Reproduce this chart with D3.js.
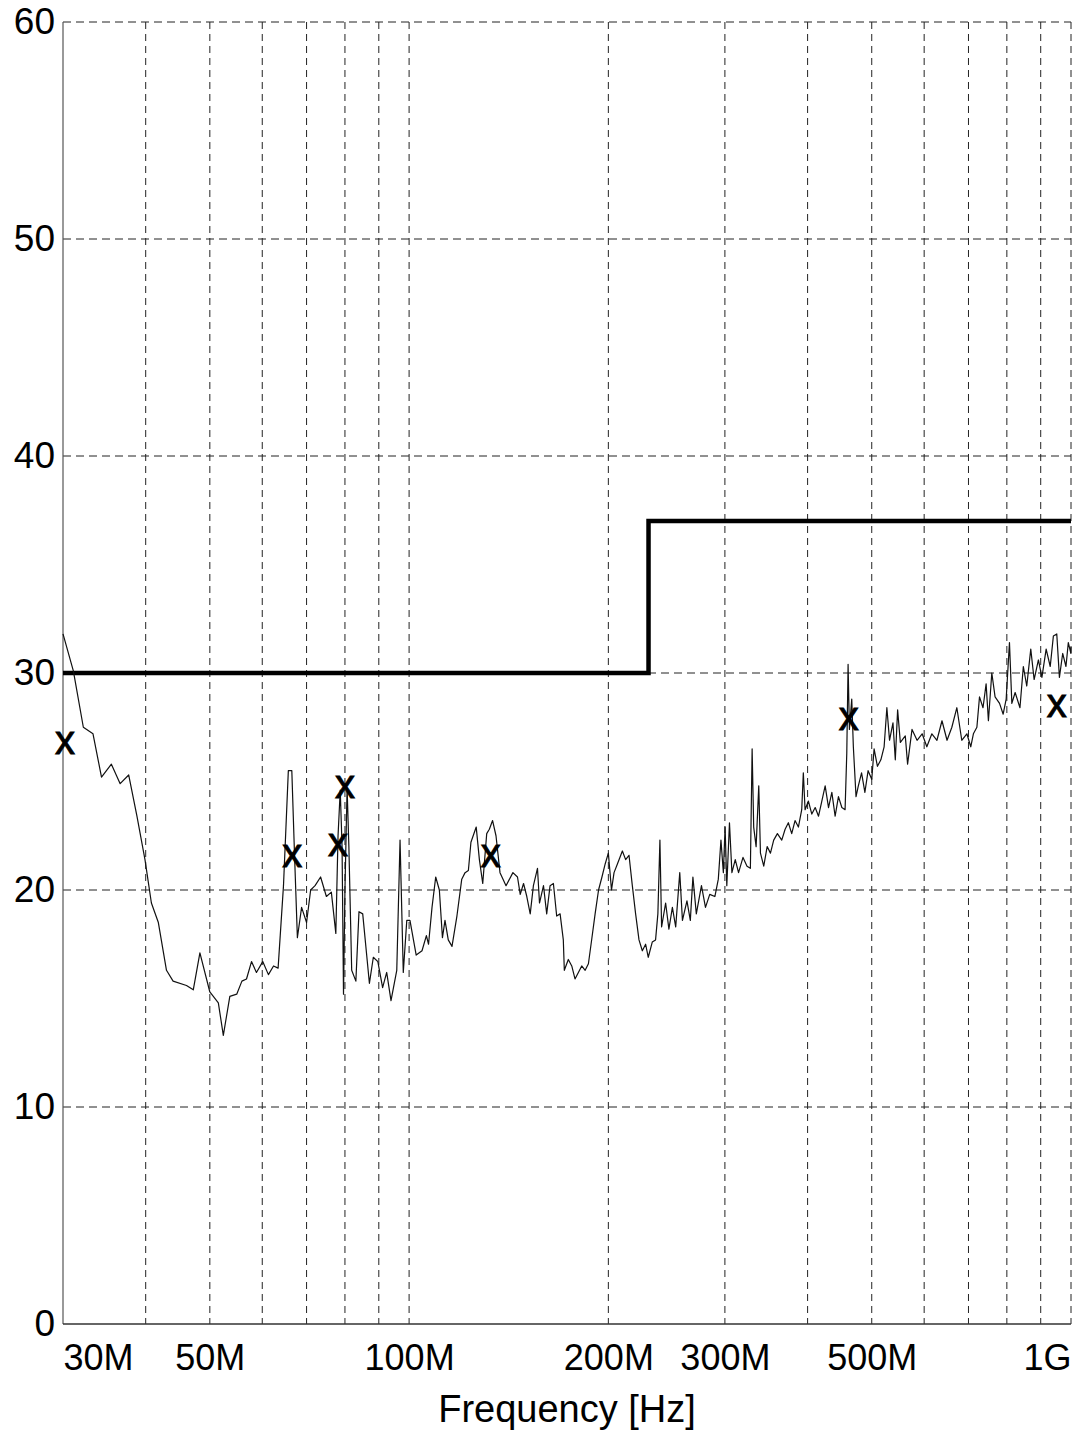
<!DOCTYPE html>
<html>
<head>
<meta charset="utf-8">
<script src="https://cdn.jsdelivr.net/npm/d3@7"></script>
<style>
  html, body { margin: 0; padding: 0; background: #fff; }
  svg { display: block; }
  text { font-family: "Liberation Sans", Arial, Helvetica, sans-serif; fill: #000; }
</style>
</head>
<body>
<svg id="chart" width="1077" height="1437"></svg>
<script>
// Axis ranges and tick labels
const freqDomain = [30, 1000];            // MHz
const levelDomain = [0, 60];              // dB
const levelTicks = [0, 10, 20, 30, 40, 50, 60];
const freqLabelValues = [30, 50, 100, 200, 300, 500, 1000];
const freqLabelText = ["30M", "50M", "100M", "200M", "300M", "500M", "1G"];
const freqGridValues = [40, 50, 60, 70, 80, 90, 100, 200, 300, 400, 500, 600, 700, 800, 900, 1000];
const xTitle = "Frequency [Hz]";

// Limit line (MHz, dB)
const limitFreq = [30, 230, 230, 1000];
const limitLevel = [30, 30, 37, 37];

// Measured spectrum (MHz, dB)
const traceFreq = [
  30.0, 31.1, 32.2, 33.3, 34.3, 35.5, 36.6, 37.7, 38.8, 39.9,
  40.8, 41.8, 43.0, 44.0, 46.1, 47.2, 48.3, 50.0, 51.5, 52.4,
  53.6, 54.9, 55.9, 56.8, 57.8, 58.8, 60.1, 61.3, 62.4, 63.4,
  64.6, 65.7, 66.5, 67.1, 67.8, 68.8, 70.0, 71.0, 72.1, 73.5,
  75.0, 76.3, 77.5, 78.1, 78.7, 79.2, 79.6, 80.0, 80.6, 81.1,
  81.9, 83.1, 84.0, 85.1, 87.1, 88.3, 89.7, 91.2, 92.5, 93.9,
  95.8, 96.9, 98.0, 99.2, 100.3, 102.5, 104.6, 106.2, 107.0, 108.3,
  109.7, 111.1, 112.3, 113.3, 114.6, 116.1, 118.1, 120.1, 121.5, 122.9,
  124.0, 126.3, 127.7, 129.2, 131.0, 132.2, 133.7, 135.3, 137.2, 140.1,
  143.5, 145.8, 147.2, 148.9, 150.6, 152.4, 154.1, 156.3, 157.4, 159.6,
  161.4, 163.3, 165.2, 167.1, 169.1, 171.0, 171.6, 174.0, 176.1, 178.1,
  180.2, 182.3, 184.5, 186.6, 188.9, 191.0, 193.3, 195.6, 197.8, 200.0,
  202.2, 204.0, 206.4, 210.0, 212.4, 214.9, 217.4, 219.9, 222.5, 225.1,
  227.7, 229.8, 233.0, 235.7, 237.6, 239.3, 240.7, 244.1, 246.9, 249.9,
  252.8, 256.4, 258.8, 262.9, 266.0, 268.4, 271.6, 276.5, 280.4, 284.6,
  289.7, 293.2, 295.9, 298.4, 300.2, 302.0, 304.8, 307.4, 311.0, 314.6,
  319.5, 324.0, 327.8, 329.8, 331.6, 334.4, 337.5, 339.5, 343.4, 347.5,
  351.5, 355.5, 360.1, 365.6, 369.9, 374.1, 378.5, 382.9, 387.4, 391.9,
  394.1, 396.5, 401.1, 405.9, 410.7, 415.5, 420.3, 425.2, 430.2, 435.2,
  440.2, 445.3, 450.6, 455.7, 458.4, 460.5, 462.6, 466.4, 469.0, 473.4,
  477.2, 482.6, 488.2, 493.7, 500.0, 504.1, 510.0, 516.1, 522.0, 527.0,
  531.9, 538.3, 542.7, 547.1, 552.3, 561.9, 566.4, 575.2, 585.4, 595.8,
  605.6, 616.3, 627.3, 638.4, 649.7, 660.7, 672.3, 683.9, 696.1, 705.6,
  712.1, 720.8, 727.4, 736.3, 744.3, 750.3, 759.2, 767.9, 779.9, 789.8,
  798.1, 807.3, 814.0, 823.4, 837.3, 847.2, 857.3, 869.4, 879.6, 892.8,
  903.7, 917.2, 930.3, 940.5, 951.7, 960.5, 971.5, 982.6, 990.7, 999.5,
  1000.0
];
const traceLevel = [
  31.8, 30.1, 27.5, 27.2, 25.2, 25.8, 24.9, 25.3, 23.4, 21.4,
  19.4, 18.5, 16.3, 15.8, 15.6, 15.4, 17.1, 15.3, 14.8, 13.3,
  15.1, 15.2, 15.8, 15.9, 16.7, 16.2, 16.7, 16.1, 16.5, 16.4,
  20.2, 25.5, 25.5, 21.8, 17.8, 19.2, 18.5, 20.0, 20.2, 20.6,
  19.7, 19.9, 18.0, 22.5, 24.6, 22.0, 15.2, 20.0, 24.7, 22.0,
  16.3, 15.8, 19.0, 18.9, 15.7, 16.9, 16.7, 15.5, 16.2, 14.9,
  16.3, 22.3, 16.2, 18.6, 18.6, 17.0, 17.2, 17.9, 17.5, 19.2,
  20.6, 20.0, 17.8, 18.6, 17.7, 17.4, 18.8, 20.5, 20.8, 20.9,
  22.2, 22.9, 21.4, 20.3, 22.6, 22.8, 23.2, 22.5, 20.8, 20.2,
  20.8, 20.6, 19.8, 20.3, 19.7, 18.9, 20.2, 21.0, 19.4, 20.2,
  18.9, 20.2, 20.3, 18.8, 18.9, 17.7, 16.3, 16.8, 16.5, 15.9,
  16.2, 16.5, 16.3, 16.6, 17.8, 18.9, 20.0, 20.6, 21.2, 21.7,
  20.0, 20.8, 21.2, 21.8, 21.4, 21.6, 20.2, 18.9, 17.7, 17.2,
  17.5, 16.9, 17.6, 17.7, 18.9, 22.3, 18.3, 19.4, 18.2, 19.2,
  18.3, 20.8, 18.6, 19.5, 18.6, 20.6, 18.9, 20.2, 19.2, 19.8,
  19.7, 20.5, 22.3, 20.8, 22.9, 20.2, 23.1, 20.8, 21.4, 20.8,
  21.5, 21.1, 21.0, 26.5, 22.9, 22.0, 24.8, 21.7, 21.1, 22.0,
  21.7, 22.3, 22.6, 22.3, 22.8, 23.1, 22.6, 23.2, 22.9, 23.7,
  25.4, 23.7, 24.1, 23.5, 23.8, 23.4, 24.1, 24.8, 23.8, 24.5,
  23.4, 24.3, 23.8, 23.7, 26.3, 30.4, 27.4, 28.8, 26.6, 24.3,
  24.8, 25.4, 24.5, 25.5, 25.1, 26.5, 25.7, 26.0, 26.6, 28.4,
  26.9, 27.7, 26.0, 28.3, 26.8, 27.1, 25.8, 27.4, 26.9, 27.2,
  26.6, 27.2, 26.9, 27.8, 26.9, 27.5, 28.4, 26.9, 27.2, 26.6,
  27.2, 27.5, 28.9, 28.4, 29.5, 27.8, 30.0, 28.9, 28.6, 28.1,
  28.8, 31.4, 28.6, 29.1, 28.4, 30.3, 29.4, 31.1, 29.7, 30.6,
  29.8, 31.1, 30.3, 31.7, 31.8, 29.8, 30.9, 30.3, 31.4, 30.9,
  31.2
];

// Peak markers (MHz, dB)
const markerFreq = [30.2, 66.6, 78.1, 80.0, 132.8, 461.5, 951.7];
const markerLevel = [26.9, 21.7, 22.2, 24.9, 21.7, 28.0, 28.6];

const svg = d3.select("#chart");
const plotLeft = 63, plotRight = 1071, plotTop = 22, plotBottom = 1324;
const fontStack = "'Liberation Sans', Arial, Helvetica, sans-serif";

const x = d3.scaleLog().domain(freqDomain).range([plotLeft, plotRight]);
const y = d3.scaleLinear().domain(levelDomain).range([plotBottom, plotTop]);

// Dashed grid
const grid = svg.append("g").attr("fill", "none");
grid.selectAll("line.v").data(freqGridValues).join("line")
  .attr("class", "v")
  .attr("x1", d => x(d)).attr("x2", d => x(d))
  .attr("y1", plotTop).attr("y2", plotBottom)
  .attr("stroke", "#222").attr("stroke-width", 1)
  .attr("stroke-dasharray", "7,5");
grid.selectAll("line.h").data(levelTicks.filter(d => d > 0)).join("line")
  .attr("class", "h")
  .attr("x1", plotLeft).attr("x2", plotRight)
  .attr("y1", d => y(d)).attr("y2", d => y(d))
  .attr("stroke", "#222").attr("stroke-width", 1)
  .attr("stroke-dasharray", "8,5");

// Solid left and bottom axis lines
svg.append("line")
  .attr("x1", plotLeft).attr("x2", plotLeft).attr("y1", plotTop).attr("y2", plotBottom)
  .attr("stroke", "#555").attr("stroke-width", 1.2);
svg.append("line")
  .attr("x1", plotLeft).attr("x2", plotRight).attr("y1", plotBottom).attr("y2", plotBottom)
  .attr("stroke", "#333").attr("stroke-width", 1.4);

// Y axis labels
const yAxis = d3.axisLeft(y).tickValues(levelTicks).tickSize(0).tickPadding(8);
const gy = svg.append("g").attr("transform", `translate(${plotLeft},0)`).call(yAxis);
gy.select(".domain").remove();
gy.selectAll("text")
  .attr("font-size", 37)
  .attr("font-family", fontStack)
  .attr("fill", "#000");

// X axis labels
const xAxis = d3.axisBottom(x).tickValues(freqLabelValues).tickSize(0).tickPadding(20)
  .tickFormat((d, i) => freqLabelText[i]);
const gx = svg.append("g").attr("transform", `translate(0,${plotBottom})`).call(xAxis);
gx.select(".domain").remove();
gx.selectAll("text")
  .attr("font-size", 36)
  .attr("font-family", fontStack)
  .attr("fill", "#000")
  .attr("text-anchor", (d, i) => i === 0 ? "start" : (i === freqLabelValues.length - 1 ? "end" : "middle"));

// Axis title
svg.append("text")
  .attr("x", 567)
  .attr("y", 1422)
  .attr("text-anchor", "middle")
  .attr("font-size", 38)
  .text(xTitle);

// Limit line
const limitLine = d3.line().x(d => x(d[0])).y(d => y(d[1]));
svg.append("path")
  .datum(d3.zip(limitFreq, limitLevel))
  .attr("d", limitLine)
  .attr("fill", "none")
  .attr("stroke", "#000")
  .attr("stroke-width", 4.5)
  .attr("stroke-linejoin", "miter");

// Measured trace
const traceLine = d3.line().x(d => x(d[0])).y(d => y(d[1]));
svg.append("path")
  .datum(d3.zip(traceFreq, traceLevel))
  .attr("d", traceLine)
  .attr("fill", "none")
  .attr("stroke", "#111")
  .attr("stroke-width", 1.2)
  .attr("stroke-linejoin", "round");

// Peak markers
svg.selectAll("text.marker").data(d3.zip(markerFreq, markerLevel)).join("text")
  .attr("class", "marker")
  .attr("x", d => x(d[0]))
  .attr("y", d => y(d[1]))
  .attr("text-anchor", "middle")
  .attr("dominant-baseline", "central")
  .attr("font-size", 40)
  .attr("stroke", "#000")
  .attr("stroke-width", 0.9)
  .text("x");
</script>
</body>
</html>
